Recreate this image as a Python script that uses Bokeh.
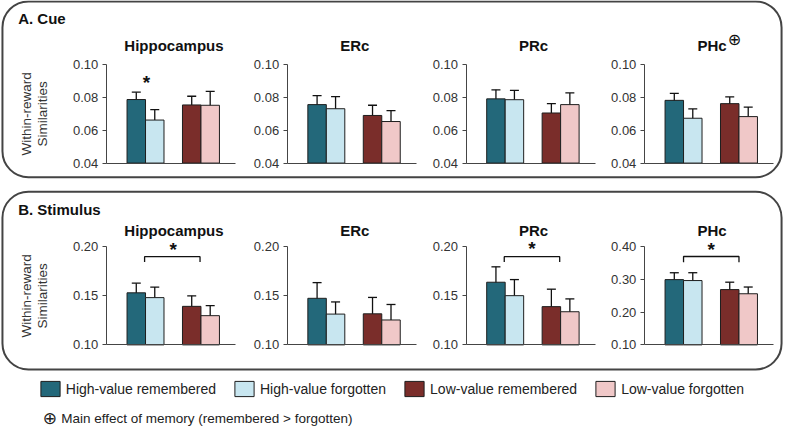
import math
from bokeh.plotting import figure
from bokeh.models import (Range1d, LinearAxis, FixedTicker, PrintfTickFormatter, Whisker,
                          TeeHead, ColumnDataSource, BoxAnnotation, Legend, LegendItem)
from bokeh.core.properties import value
from bokeh.embed import file_html
from bokeh.resources import INLINE

# ---------------- data ----------------
regions = ["Hippocampus", "ERc", "PRc", "PHc"]
conditions = ["High-value remembered", "High-value forgotten",
              "Low-value remembered", "Low-value forgotten"]
colors = ["#23687a", "#c8e6f0", "#7a2d2a", "#f0c8c8"]

cue_hippocampus_mean = [0.0787, 0.0662, 0.0754, 0.0752]
cue_hippocampus_sem = [0.0045, 0.0064, 0.0053, 0.0085]
cue_erc_mean = [0.0756, 0.0731, 0.0690, 0.0653]
cue_erc_sem = [0.0055, 0.0074, 0.0062, 0.0067]
cue_prc_mean = [0.0791, 0.0786, 0.0705, 0.0756]
cue_prc_sem = [0.0055, 0.0057, 0.0057, 0.0071]
cue_phc_mean = [0.0782, 0.0673, 0.0762, 0.0683]
cue_phc_sem = [0.0043, 0.0057, 0.0041, 0.0058]

stim_hippocampus_mean = [0.1531, 0.1482, 0.1393, 0.1298]
stim_hippocampus_sem = [0.0098, 0.0108, 0.0107, 0.0102]
stim_erc_mean = [0.1475, 0.1314, 0.1317, 0.1254]
stim_erc_sem = [0.0160, 0.0124, 0.0167, 0.0158]
stim_prc_mean = [0.1639, 0.1502, 0.1390, 0.1338]
stim_prc_sem = [0.0157, 0.0164, 0.0178, 0.0131]
stim_phc_mean = [0.2997, 0.2968, 0.2692, 0.2564]
stim_phc_sem = [0.0210, 0.0240, 0.0226, 0.0206]

cue_ticks = [0.04, 0.06, 0.08, 0.10]
stim_ticks = [0.10, 0.15, 0.20]
stim_phc_ticks = [0.10, 0.20, 0.30, 0.40]

panel_titles = ["A. Cue", "B. Stimulus"]
y_label_lines = ["Within-reward", "Similarities"]
footnote = "Main effect of memory (remembered > forgotten)"

# ---------------- layout helpers ----------------
W, H = 784, 428
SX, SY = 0.98, 0.966


def fx(xr):
    return xr * SX


def fy(yr):
    return H - yr * SY


AX_REF = [108, 292.5, 475, 657]
X_SPAN_REF = 132
XS, XE = -0.12, 6.88
BAR_X = [1.5, 2.5, 4.5, 5.5]
AXC = "#454545"
FONT = value("Liberation Sans")

panels = [
    dict(means=[cue_hippocampus_mean, cue_erc_mean, cue_prc_mean, cue_phc_mean],
         sems=[cue_hippocampus_sem, cue_erc_sem, cue_prc_sem, cue_phc_sem],
         lims=[(0.04, 0.10)] * 4, ticks=[cue_ticks] * 4,
         top_ref=66.3, bot_ref=168.3, title_ref=46.7, label_ref=19,
         box=(1, 183)),
    dict(means=[stim_hippocampus_mean, stim_erc_mean, stim_prc_mean, stim_phc_mean],
         sems=[stim_hippocampus_sem, stim_erc_sem, stim_prc_sem, stim_phc_sem],
         lims=[(0.10, 0.20)] * 3 + [(0.10, 0.40)],
         ticks=[stim_ticks] * 3 + [stim_phc_ticks],
         top_ref=255, bot_ref=356.5, title_ref=238.3, label_ref=216.7,
         box=(198, 382)),
]

# significance marks: (panel, region index, star x, star y, bracket (x0, x1, ytop, ybottom) or None)
stars = [
    (0, 0, 2.05, 0.0908, None),
    (1, 0, 3.5, 0.2005, (1.95, 4.95, 0.190, 0.1845)),
    (1, 2, 3.45, 0.2015, (1.95, 4.95, 0.190, 0.1845)),
    (1, 3, 3.5, 0.401, (2.0, 5.0, 0.3704, 0.353)),
]

p = figure(width=W, height=H, x_range=Range1d(0, W), y_range=Range1d(0, H),
           x_axis_type=None, y_axis_type=None, output_backend="svg",
           toolbar_location=None, min_border=0, outline_line_color=None,
           background_fill_color="white", border_fill_color="white")
p.title.visible = False

first_bar_renderer = None

for pi_, pan in enumerate(panels):
    # rounded panel box
    p.add_layout(BoxAnnotation(left=fx(2), right=fx(797), top=fy(pan["box"][0]),
                               bottom=fy(pan["box"][1]), fill_color=None,
                               line_color="#444444", line_alpha=1.0, line_width=2,
                               border_radius=26, level="underlay"))
    # panel title
    p.text(x=[fx(18)], y=[fy(pan["label_ref"])], text=[panel_titles[pi_]],
           text_font=FONT, text_font_style="bold", text_font_size="15px",
           text_align="left", text_baseline="middle", text_color="#111111")
    # y label (two lines)
    yc = fy((pan["top_ref"] + pan["bot_ref"]) / 2)
    p.text(x=[fx(27), fx(43)], y=[yc, yc], text=y_label_lines, angle=math.pi / 2,
           text_font=FONT, text_font_size="13.5px", text_align="center",
           text_baseline="middle", text_color="#333333")

    for c in range(4):
        xn = f"x{pi_}{c}"
        yn = f"y{pi_}{c}"
        vb, vt = pan["lims"][c]
        ax_f = fx(AX_REF[c])
        unit = X_SPAN_REF * SX / (XE - XS)
        xstart = XS - ax_f / unit
        p.extra_x_ranges[xn] = Range1d(xstart, xstart + W / unit)
        yt_f, yb_f = fy(pan["top_ref"]), fy(pan["bot_ref"])
        vpp = (vt - vb) / (yt_f - yb_f)
        ystart = vb - yb_f * vpp
        p.extra_y_ranges[yn] = Range1d(ystart, ystart + H * vpp)

        m = pan["means"][c]
        s = pan["sems"][c]
        src = ColumnDataSource(dict(x=BAR_X, top=m, color=colors,
                                    upper=[a + b for a, b in zip(m, s)],
                                    lower=[a - b for a, b in zip(m, s)]))
        r = p.vbar(x="x", top="top", bottom=vb, width=1.0, fill_color="color",
                   line_color="#1e1e1e", line_width=1, source=src,
                   x_range_name=xn, y_range_name=yn)
        if first_bar_renderer is None:
            first_bar_renderer = r
        p.add_layout(Whisker(base="x", upper="upper", lower="lower", source=src,
                             x_range_name=xn, y_range_name=yn,
                             line_color="#111111", line_width=1.3,
                             upper_head=TeeHead(size=9, line_color="#111111", line_width=1.3),
                             lower_head=TeeHead(size=9, line_color="#111111", line_width=1.3)))

        yax = LinearAxis(x_range_name=xn, y_range_name=yn, fixed_location=XS,
                         bounds=(vb, vt), ticker=FixedTicker(ticks=pan["ticks"][c]),
                         formatter=PrintfTickFormatter(format="%.2f"),
                         major_tick_in=0, major_tick_out=4,
                         minor_tick_line_color=None, axis_line_color=AXC,
                         major_tick_line_color=AXC,
                         major_label_text_font="Liberation Sans",
                         major_label_text_font_size="13px",
                         major_label_text_color="#333333", major_label_standoff=4)
        p.add_layout(yax, "left")
        xax = LinearAxis(x_range_name=xn, y_range_name=yn, fixed_location=vb,
                         bounds=(XS, XE), ticker=FixedTicker(ticks=[]),
                         major_tick_line_color=None, minor_tick_line_color=None,
                         axis_line_color=AXC, major_label_text_font_size="0px")
        p.add_layout(xax, "below")

        # region title
        p.text(x=[fx(AX_REF[c] + X_SPAN_REF / 2 + 3)], y=[fy(pan["title_ref"])],
               text=[regions[c]], text_font=FONT, text_font_style="bold",
               text_font_size="15px", text_align="center", text_baseline="middle",
               text_color="#111111")

# circled plus next to PHc (cue)
p.text(x=[fx(749)], y=[fy(40)], text=["\u2295"], text_font=value("DejaVu Sans"),
       text_font_size="16px", text_align="center", text_baseline="middle",
       text_color="#111111")

# significance stars and brackets
for pi_, c, sx_, sy_, br in stars:
    xn, yn = f"x{pi_}{c}", f"y{pi_}{c}"
    p.text(x=[sx_], y=[sy_], text=["*"], text_font=FONT, text_font_style="bold",
           text_font_size="19px", text_align="center", text_baseline="alphabetic",
           y_offset=3, text_color="#111111", x_range_name=xn, y_range_name=yn)
    if br is not None:
        x0, x1, yt, ybm = br
        p.line(x=[x0, x0, x1, x1], y=[ybm, yt, yt, ybm], line_color="#111111",
               line_width=1.3, x_range_name=xn, y_range_name=yn)

# legend
legend = Legend(items=[LegendItem(label=cond, renderers=[first_bar_renderer], index=i)
                       for i, cond in enumerate(conditions)],
                orientation="horizontal", location=(fx(38.6), fy(402) - 10),
                glyph_width=24, glyph_height=19, label_standoff=4, spacing=16,
                padding=0, margin=0, border_line_color=None,
                background_fill_alpha=0, label_text_font="Liberation Sans",
                label_text_font_size="14px", label_text_color="#222222")
p.add_layout(legend)

# footnote
p.text(x=[fx(50.5)], y=[fy(432.5)], text=["\u2295"], text_font=value("DejaVu Sans"),
       text_font_size="17px", text_align="center", text_baseline="middle",
       text_color="#222222")
p.text(x=[fx(62)], y=[fy(433)], text=[footnote], text_font=FONT,
       text_font_size="13.5px", text_align="left", text_baseline="middle",
       text_color="#222222")

open("out.html", "w").write(file_html(p, INLINE))
